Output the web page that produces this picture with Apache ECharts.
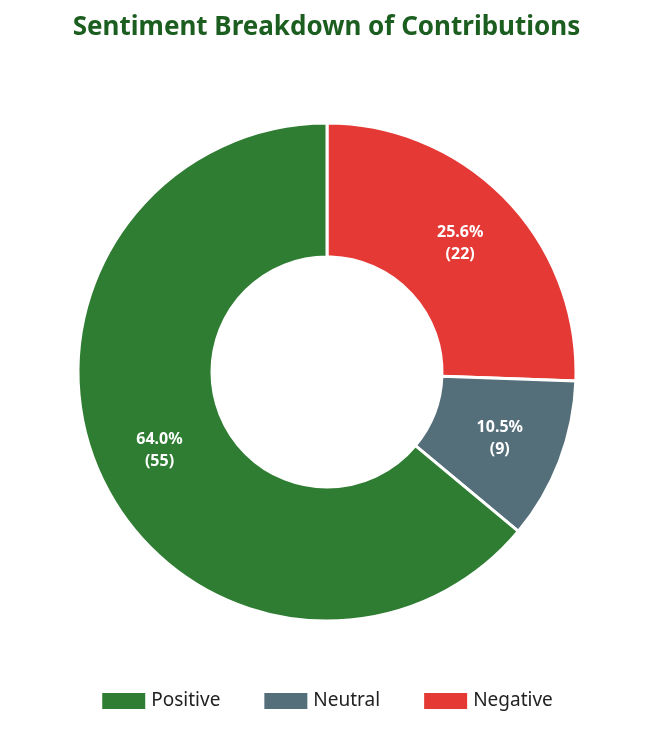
<!DOCTYPE html>
<html><head><meta charset="utf-8">
<script src="https://cdn.jsdelivr.net/npm/echarts@6/dist/echarts.min.js"></script>
<style>html,body{margin:0;padding:0;background:#fff}#c{width:653px;height:738px}</style>
</head><body><div id="c"></div>
<script>
const categories = ['Negative', 'Neutral', 'Positive'];
const values = [22, 9, 55];
const colors = ['#e53935', '#546e7a', '#2e7d32'];
const legendOrder = ['Positive', 'Neutral', 'Negative'];
const total = values.reduce((a, b) => a + b, 0);
const chart = echarts.init(document.getElementById('c'));
chart.setOption({
  title: { text: 'Sentiment Breakdown of Contributions', left: 'center', top: 10,
    textStyle: { fontFamily: 'Noto Sans', fontSize: 26, fontWeight: 'bold', color: '#1b5e20' } },
  legend: { data: legendOrder, bottom: 22, itemWidth: 45, itemHeight: 18, itemGap: 42,
    textStyle: { fontFamily: 'Noto Sans', fontSize: 19, color: '#222' }, icon: 'rect' },
  series: [{
    type: 'pie', center: [327, 372], radius: [115, 249], startAngle: 90, clockwise: true,
    avoidLabelOverlap: false,
    itemStyle: { borderColor: '#fff', borderWidth: 3 },
    label: { show: true, position: 'inside', color: '#fff', fontFamily: 'Noto Sans', fontSize: 16,
      fontWeight: 'bold', lineHeight: 22,
      formatter: p => (p.value / total * 100).toFixed(1) + '%\n(' + p.value + ')' },
    labelLine: { show: false },
    data: categories.map((c, i) => ({ name: c, value: values[i], itemStyle: { color: colors[i] } }))
  }]
});
</script></body></html>
